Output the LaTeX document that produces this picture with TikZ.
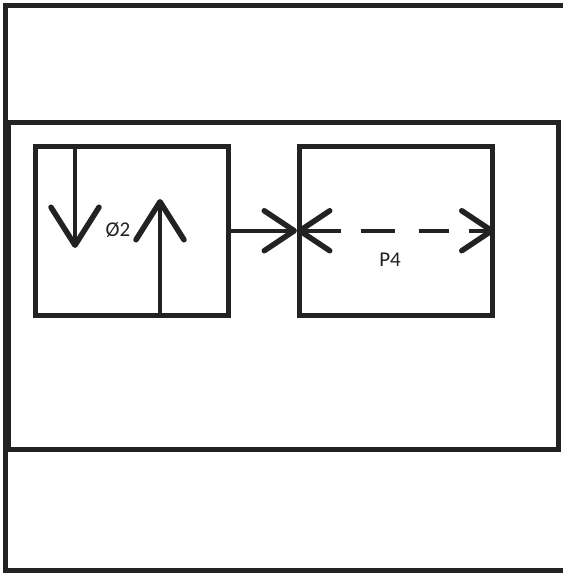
\documentclass[tikz,border=0pt]{standalone}
\usepackage{fontspec}
\setmainfont{Carlito}
\usetikzlibrary{arrows.meta}
\definecolor{ink}{HTML}{222222}
\tikzset{
  frame/.style={draw=ink, line width=5pt},
  box/.style={draw=ink, line width=4.5pt, minimum width=193pt, minimum height=169pt, anchor=north west, inner sep=0pt},
  vbarb/.tip={Straight Barb[length=38pt, width=48pt, line width=5.5pt, round]},
  hbarb/.tip={Straight Barb[length=30pt, width=40pt, line width=5.5pt, round]},
  conn/.style={draw=ink, line width=4pt},
  lbl/.style={font=\fontsize{21}{21}\selectfont, text=ink, inner sep=0pt}
}
\begin{document}
\begin{tikzpicture}[x=1pt, y=-1pt]
\useasboundingbox (0,0) rectangle (563,574);
\fill[white] (0,0) rectangle (563,574);
\clip (0,0) rectangle (563,574);
% outer frame (open to the right edge)
\draw[frame] (5,5) rectangle (620,570);
% middle frame
\draw[frame] (8,122) rectangle (558,449);
% boxes
\node[box] (L) at (33,144) {};
\node[box] (R) at (297,144) {};
% inner arrows of left box
\coordinate (dtop) at (75,144);
\coordinate (dtip) at (75,248);
\coordinate (ubot) at (160,313);
\coordinate (utip) at (160,199);
\draw[conn, -vbarb] (dtop) -- (dtip);
\draw[conn, -vbarb] (ubot) -- (utip);
\node[lbl] (phi) at (118,230) {Ø2};
% connector between boxes
\draw[conn, -hbarb] (L.east) -- (R.west);
% dashed double arrow in right box
\draw[conn, hbarb-hbarb, dash pattern=on 38pt off 20pt on 34pt off 24pt on 30pt off 20pt] (R.west) -- (R.east);
\node[lbl] (p4) at (390,260) {P4};
\end{tikzpicture}
\end{document}
